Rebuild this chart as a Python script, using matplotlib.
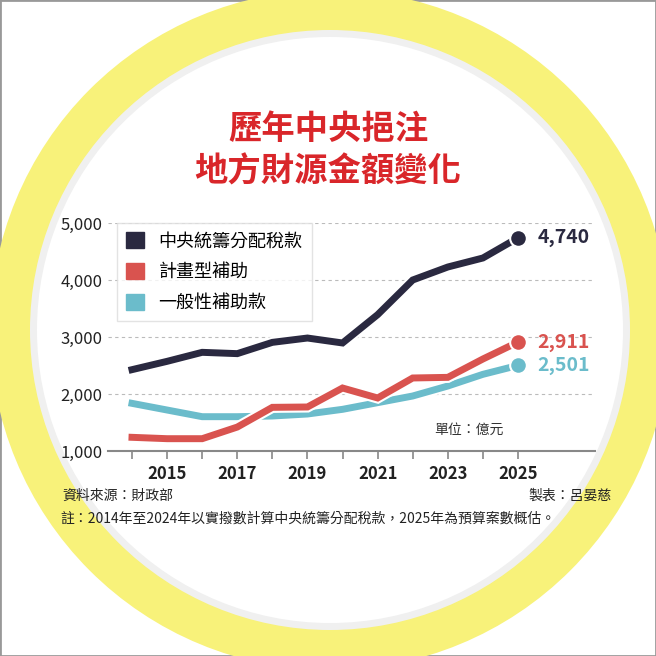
import matplotlib
matplotlib.use("Agg")
import matplotlib.pyplot as plt
from matplotlib.patches import Circle, Rectangle
import matplotlib.patheffects as pe

plt.rcParams['font.family'] = ['Noto Sans CJK TC', 'DejaVu Sans']

years = list(range(2014, 2026))
central = [2427, 2573, 2731, 2708, 2906, 2982, 2895, 3392, 4000, 4228, 4386, 4740]
planned = [1240, 1216, 1216, 1420, 1766, 1772, 2105, 1930, 2281, 2292, 2614, 2911]
general = [1836, 1719, 1602, 1602, 1614, 1649, 1731, 1848, 1965, 2140, 2345, 2501]
names = ['中央統籌分配稅款', '計畫型補助', '一般性補助款']
colors = ['#2a2940', '#d9534f', '#6bbccb']
yticks = [1000, 2000, 3000, 4000, 5000]
xticks = [2015, 2017, 2019, 2021, 2023, 2025]

fig = plt.figure(figsize=(6.56, 6.56), dpi=100)
W = H = 656
def fx(x): return x / W
def fy(y): return 1 - y / H

fig.patches.append(Rectangle((0, 0), 1, 1, transform=fig.transFigure, facecolor='white', edgecolor='#999999', lw=2, zorder=-10))
fig.patches.append(Circle((fx(330), fy(330)), 340 / W, transform=fig.transFigure, facecolor='#f8f27a', edgecolor='none', zorder=-9))
fig.patches.append(Circle((fx(330), fy(330)), 300 / W, transform=fig.transFigure, facecolor='#f0f0f0', edgecolor='none', zorder=-8))
fig.patches.append(Circle((fx(330), fy(330)), 293 / W, transform=fig.transFigure, facecolor='white', edgecolor='none', zorder=-7))

fig.text(0.5, fy(130), '歷年中央挹注', ha='center', va='center', fontsize=24, fontweight='bold', color='#d9262a')
fig.text(0.5, fy(172), '地方財源金額變化', ha='center', va='center', fontsize=24, fontweight='bold', color='#d9262a')

x0p, x1p = 108, 595
xmin = 2014 + (x0p - 132) / ((518 - 132) / 11)
xmax = 2014 + (x1p - 132) / ((518 - 132) / 11)
ax = fig.add_axes([fx(x0p), fy(451), (x1p - x0p) / W, (451 - 223) / H])
ax.set_xlim(xmin, xmax)
ax.set_ylim(1000, 5000)
ax.patch.set_alpha(0)
for s in ['top', 'right', 'left']:
    ax.spines[s].set_visible(False)
ax.spines['bottom'].set_color('#888888')
ax.spines['bottom'].set_linewidth(1.5)
for y in yticks[1:]:
    ax.axhline(y, color='#bbbbbb', ls=(0, (3, 3)), lw=0.8, zorder=0)
ax.set_yticks(yticks)
ax.set_yticklabels([f'{v:,}' for v in yticks], fontsize=12, color='#222222')
ax.tick_params(axis='y', length=0, pad=4)
ax.set_xticks(years, minor=True)
ax.set_xticks(xticks)
ax.set_xticklabels([str(x) for x in xticks], fontsize=12, fontweight='bold', color='#222222')
ax.tick_params(axis='x', which='both', length=6, color='#888888', width=1.2, pad=4)

series = [central, planned, general]
for i in [2, 1, 0]:
    ax.plot(years, series[i], color=colors[i], lw=5, solid_joinstyle='miter',
            path_effects=[pe.Stroke(linewidth=8, foreground='white'), pe.Normal()], zorder=3 + (2 - i))
    ax.plot(years[-1], series[i][-1], 'o', ms=12, color=colors[i], mec='white', mew=1.5, zorder=6)
    ax.annotate(f'{series[i][-1]:,}', (years[-1], series[i][-1]), xytext=(14, 0), textcoords='offset points',
                va='center', ha='left', fontsize=14, fontweight='bold', color=colors[i])

ax.text(2022.6, 1300, '單位：億元', fontsize=10, color='#333333')

leg_handles = [Rectangle((0, 0), 1, 1, color=c) for c in colors]
leg = ax.legend(leg_handles, names, loc='upper left', bbox_to_anchor=(0.0, 1.04), fontsize=13,
                handlelength=1.0, handleheight=1.0, frameon=True, fancybox=False, borderpad=0.5,
                labelspacing=0.7)
leg.get_frame().set_edgecolor('#dddddd')
leg.get_frame().set_facecolor('white')
leg.set_zorder(10)

fig.text(fx(62), fy(496), '資料來源：財政部', fontsize=10, va='center', color='#222222')
fig.text(fx(612), fy(496), '製表：呂晏慈', fontsize=10, va='center', ha='right', color='#222222')
fig.text(fx(60), fy(519), '註：2014年至2024年以實撥數計算中央統籌分配稅款，2025年為預算案數概估。', fontsize=10, va='center', color='#222222')

fig.savefig('out.png', dpi=100)
